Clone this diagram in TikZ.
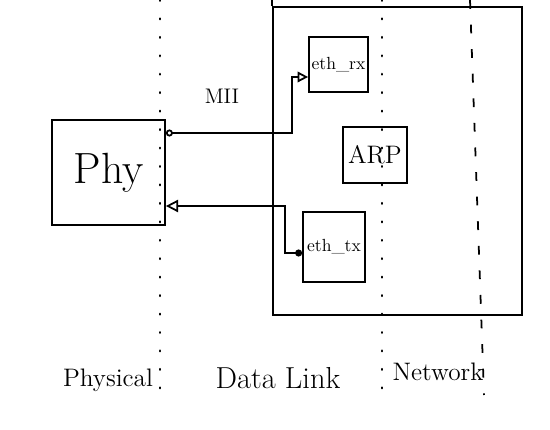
\documentclass[tikz,border=0pt]{standalone}
\usepackage{tikz}
\usetikzlibrary{arrows.meta,positioning}
\tikzset{>=latex}
\tikzstyle{blk}=[rectangle,draw,line width=1pt,inner sep=1pt]
\tikzstyle{layer}=[line width=1.2pt,line cap=round,dash pattern=on 0.5pt off 10pt]
\tikzstyle{wire}=[line width=1pt]

\begin{document}
\begin{tikzpicture}[x=0.02cm,y=-0.02cm]
  \useasboundingbox (0,0) rectangle (550,429);

  % layer borders
  \draw[layer] (160,0) -- (160,395) ;
  \draw[layer] (382,0) -- (382,395) ;
  \draw[line width=1pt,dash pattern=on 5pt off 9pt] (470,0) -- (484,395) ;

  % data link / network container
  \path (397.5,161) node (dl) [blk,minimum width=4.98cm,minimum height=6.16cm] {};
  \draw[line width=1pt] (dl.north west) -- ++(0,-8) ;

  \path (108.5,172.5) node (phy) [blk,minimum width=2.26cm,minimum height=2.1cm] {\Huge Phy};
  \path (338.5,64.5) node (erx) [blk,minimum width=1.18cm,minimum height=1.1cm] {eth\_rx};
  \path (375,155) node (arp) [blk,minimum width=1.28cm,minimum height=1.12cm] {\Large ARP};
  \path (334,247) node (etx) [blk,minimum width=1.24cm,minimum height=1.4cm] {eth\_tx};

  \node (mii) at (222,96) {\large MII};

  % MII signals
  \draw[wire,{Circle[open,length=4pt]}-{Triangle[open,length=6pt,width=6pt]}]
    ([yshift=0.79cm]phy.east) -- ++(126,0) |- ([yshift=-0.25cm]erx.west) ;
  \draw[wire,{Circle[length=4pt]}-{Triangle[open,length=7pt,width=7pt]}]
    ([yshift=-0.12cm]etx.west) -- ++(-17,0) |- ([yshift=-0.67cm]phy.east) ;

  % layer names
  \node (lphy) at (108,380) {\Large Physical};
  \node (ldl) at (278,378) {\LARGE Data Link};
  \node (lnet) at (438,372) {\Large Network};

\end{tikzpicture}
\end{document}
